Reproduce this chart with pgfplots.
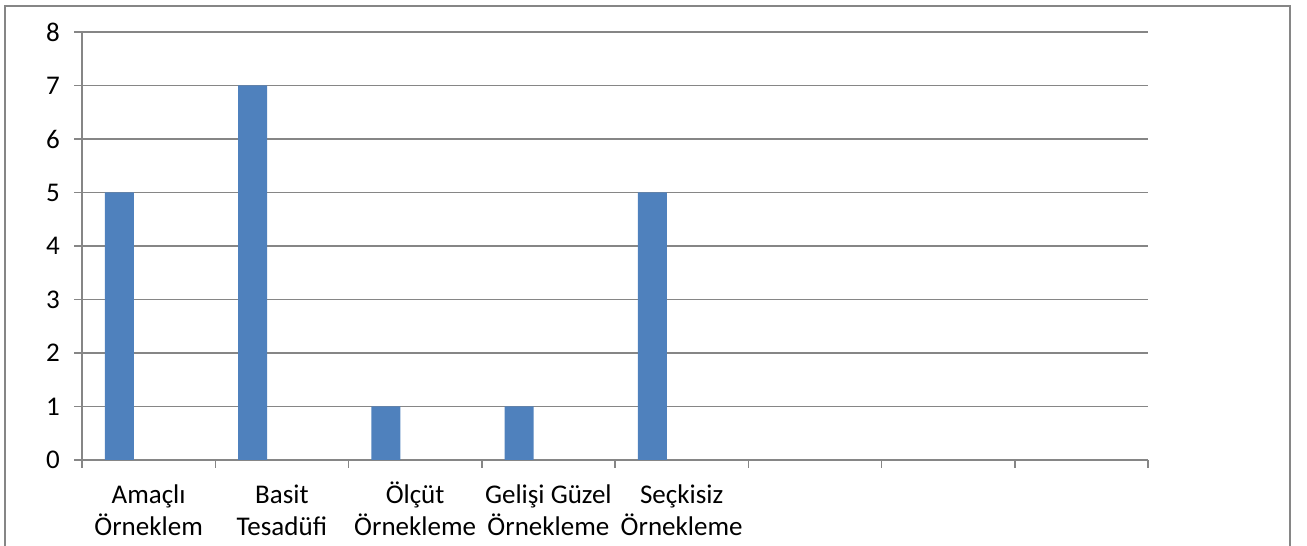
\documentclass[border=0pt]{standalone}
\usepackage{fontspec}
\setmainfont{Carlito}
\usepackage{pgfplots}
\pgfplotsset{compat=1.18}
\usetikzlibrary{calc}
\definecolor{barblue}{RGB}{79,129,189}
\definecolor{gridgray}{RGB}{134,134,134}
\begin{document}
\begin{tikzpicture}
\begin{axis}[name=ax,
  scale only axis, width=533pt, height=214pt,
  xmin=-0.5, xmax=7.5, ymin=0, ymax=8,
  ytick={0,...,8},
  xtick={-0.5,0.5,...,7.5},
  x tick label as interval,
  xticklabels={{\strut Amaçlı\\\strut Örneklem},{\strut Basit\\\strut Tesadüfi},{\strut Ölçüt\\\strut Örnekleme},{\strut Gelişi Güzel\\\strut Örnekleme},{\strut Seçkisiz\\\strut Örnekleme},{},{},{}},
  xticklabel style={align=center, anchor=north, yshift=-3pt},
  yticklabel style={xshift=-3.5pt},
  ticklabel style={font=\fontsize{13.5}{16}\selectfont, text=black},
  /pgf/number format/assume math mode=true,
  axis x line*=bottom, axis y line*=left,
  axis line style={gridgray, line width=0.75pt, -},
  tick align=outside, major tick length=4pt,
  tick style={gridgray, line width=0.75pt},
  ymajorgrids,
  grid style={gridgray, line width=0.75pt},
]
\addplot[ybar, bar width=0.218, fill=barblue, draw=none, bar shift=0pt]
  coordinates {(-0.219,5) (0.781,7) (1.781,1) (2.781,1) (3.781,5)};
\end{axis}
\pgfresetboundingbox
\path[use as bounding box] ($(ax.south west)+(-41pt,-43pt)$) rectangle ($(ax.north east)+(79.5pt,16pt)$);
\draw[gridgray, line width=0.75pt] ($(ax.south west)+(-38.5pt,-60pt)$) rectangle ($(ax.north east)+(71pt,13pt)$);
\end{tikzpicture}
\end{document}
